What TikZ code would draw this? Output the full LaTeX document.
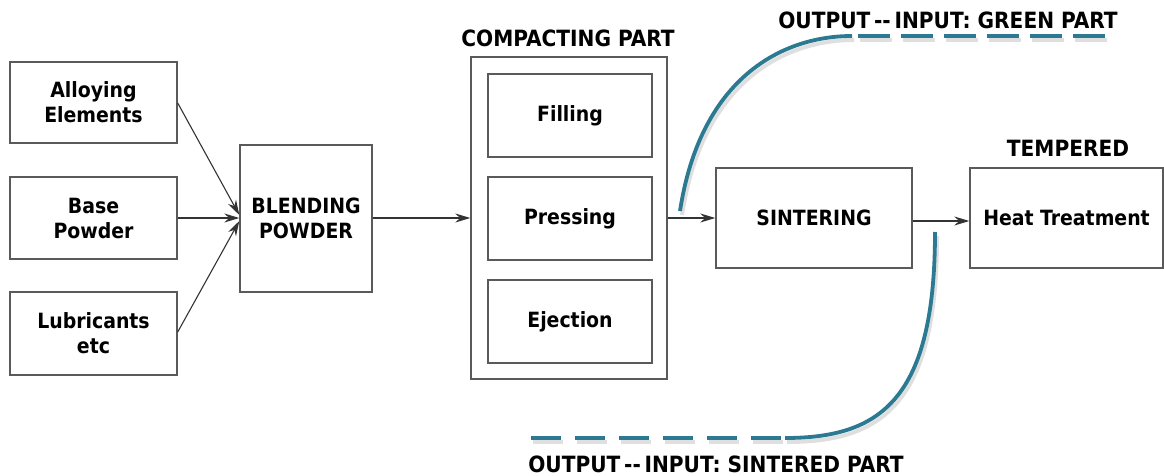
\documentclass[tikz,border=0pt]{standalone}
\usepackage{fontspec}
\setmainfont{DejaVu Sans Condensed}
\usetikzlibrary{arrows.meta}
\definecolor{teal1}{HTML}{2B7A92}
\definecolor{boxline}{HTML}{5A5A5A}
\tikzset{
  x=1pt, y=-1pt,
  box/.style={draw=boxline, line width=1.4pt, fill=white, inner sep=0pt, align=center, font=\fontsize{21}{25}\selectfont\bfseries},
  head/.style={inner sep=0pt, font=\fontsize{22.4}{26}\selectfont\bfseries},
  conn/.style={draw=black!80, line width=1.1pt, -{Stealth[length=15pt,width=9pt]}},
  tealline/.style={draw=teal1, line width=3.8pt},
  shadowline/.style={draw=black!25, line width=4pt, opacity=0.5},
}
\begin{document}
\begin{tikzpicture}
\useasboundingbox (0,0) rectangle (1164,476);
% boxes
\node[box, minimum width=167pt, minimum height=81pt] (alloy) at (93.5,102.5) {Alloying\\Elements};
\node[box, minimum width=167pt, minimum height=82pt] (base) at (93.5,218) {Base\\Powder};
\node[box, minimum width=167pt, minimum height=83pt] (lub) at (93.5,333.5) {Lubricants\\etc};
\node[box, minimum width=132pt, minimum height=147pt] (blend) at (306,218.5) {BLENDING\\POWDER};
\node[box, minimum width=196pt, minimum height=322pt] (comp) at (569,218) {};
\node[box, minimum width=164pt, minimum height=83pt] (fill) at (570,115.5) {Filling};
\node[box, minimum width=164pt, minimum height=83pt] (press) at (570,218.5) {Pressing};
\node[box, minimum width=164pt, minimum height=83pt] (eject) at (570,321.5) {Ejection};
\node[box, minimum width=196pt, minimum height=100pt] (sinter) at (814,218) {SINTERING};
\node[box, minimum width=193pt, minimum height=100pt] (heat) at (1066.5,218) {Heat Treatment};
% headings
\node[head] (comphead) at (568,38) {COMPACTING PART};
\node[head] (temphead) at (1068,148) {TEMPERED};
\node[head] (greenlbl) at (948,20) {OUTPUT\,-{}-\,INPUT: GREEN PART};
\node[head] (sintlbl) at (716,464) {OUTPUT\,-{}-\,INPUT: SINTERED PART};
% connectors
\draw[conn] (alloy.east |- 0,103) -- (blend.west |- 0,215);
\draw[conn] (base.east) -- (blend.west |- 0,218);
\draw[conn] (lub.east |- 0,332) -- (blend.west |- 0,221);
\draw[conn] (blend.east |- 0,218) -- (comp.west |- 0,218);
\draw[conn] (comp.east |- 0,218) -- (sinter.west |- 0,218);
\draw[conn] (sinter.east |- 0,221) -- (heat.west |- 0,221);
% teal curves
\coordinate (g0) at (680,211);
\coordinate (g1) at (852,36);
\coordinate (g2) at (1106,36);
\coordinate (s0) at (935,232);
\coordinate (s1) at (785,438);
\coordinate (s2) at (522,438);
\begin{scope}[shift={(2,4)}]
\draw[shadowline] (680,211) .. controls (700,80) and (780,36) .. (852,36);
\draw[shadowline, dash pattern=on 32pt off 11pt, dash phase=-6pt] (852,36) -- (1106,36);
\draw[shadowline] (935,232) .. controls (935,400) and (880,438) .. (785,438);
\draw[shadowline, dash pattern=on 30pt off 14pt, dash phase=-4pt] (785,438) -- (522,438);
\end{scope}
\draw[tealline] (g0) .. controls (700,80) and (780,36) .. (g1);
\draw[tealline, dash pattern=on 32pt off 11pt, dash phase=-6pt] (g1) -- (g2);
\draw[tealline] (s0) .. controls (935,400) and (880,438) .. (s1);
\draw[tealline, dash pattern=on 30pt off 14pt, dash phase=-4pt] (s1) -- (s2);
\end{tikzpicture}
\end{document}
